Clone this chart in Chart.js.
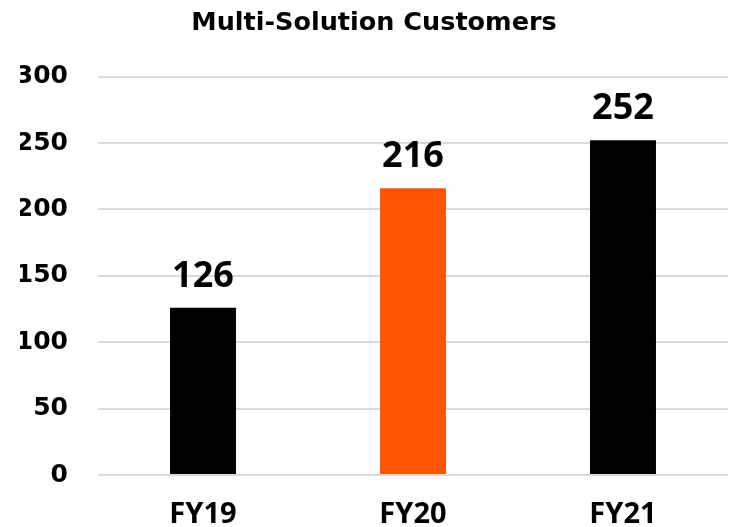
<!DOCTYPE html>
<html>
<head>
<meta charset="utf-8">
<script src="https://cdn.jsdelivr.net/npm/chart.js@4"></script>
<style>
  html, body { margin: 0; padding: 0; background: #ffffff; }
  #wrap { width: 732px; height: 527px; overflow: hidden; }
</style>
</head>
<body>
<div id="wrap"><canvas id="c" width="732" height="527"></canvas></div>
<script>
const categories = ["FY19", "FY20", "FY21"];
const customers = [126, 216, 252];
const barColors = ["#000000", "#ff5500", "#000000"];
const yTicks = [0, 50, 100, 150, 200, 250, 300];
const chartTitle = "Multi-Solution Customers";

const WIDE = "'DejaVu Sans', sans-serif";
const FONT = "'Noto Sans', 'DejaVu Sans', sans-serif";

const valueLabels = {
  id: "valueLabels",
  afterDatasetsDraw(chart) {
    const ctx = chart.ctx;
    const meta = chart.getDatasetMeta(0);
    ctx.save();
    ctx.font = "bold 36px " + FONT;
    ctx.fillStyle = "#000000";
    ctx.textAlign = "center";
    ctx.textBaseline = "alphabetic";
    meta.data.forEach((bar, i) => {
      ctx.fillText(String(chart.data.datasets[0].data[i]), bar.x, bar.y - 21);
    });
    ctx.restore();
  }
};

new Chart(document.getElementById("c"), {
  type: "bar",
  data: {
    labels: categories,
    datasets: [{
      data: customers,
      backgroundColor: barColors,
      categoryPercentage: 1,
      barPercentage: 0.314
    }]
  },
  options: {
    responsive: false,
    animation: false,
    layout: { padding: { left: 20, right: 4, top: 0, bottom: 0 } },
    plugins: {
      legend: { display: false },
      tooltip: { enabled: false },
      title: {
        display: true,
        text: chartTitle,
        color: "#000000",
        font: { family: WIDE, size: 25.5, weight: "bold" },
        padding: { top: 8, bottom: 38 }
      }
    },
    scales: {
      x: {
        grid: { display: false, drawTicks: false },
        border: { display: false },
        ticks: {
          color: "#000000",
          font: { family: FONT, size: 29, weight: "bold" },
          padding: 22,
          maxRotation: 0
        },
        afterFit(scale) { scale.height = 52; }
      },
      y: {
        min: 0,
        max: 300,
        afterBuildTicks(scale) { scale.ticks = yTicks.map(v => ({ value: v })); },
        grid: { color: "#d9d9d9", lineWidth: 2, drawTicks: false },
        border: { display: false },
        ticks: {
          color: "#000000",
          font: { family: WIDE, size: 25, weight: "bold" },
          padding: 30
        },
        afterFit(scale) { scale.width = 78; }
      }
    }
  },
  plugins: [valueLabels]
});
</script>
</body>
</html>
